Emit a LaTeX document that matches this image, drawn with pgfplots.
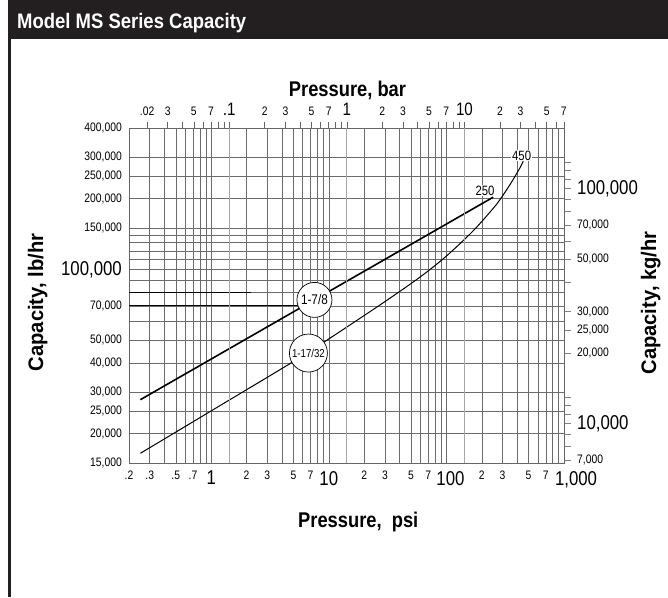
\documentclass[border=0pt]{standalone}
\usepackage{fontspec}
\setmainfont{Liberation Sans}[FakeStretch=0.84]
\newfontfamily\ttlf{Liberation Sans}[FakeStretch=0.88]
\newfontfamily\labf{Liberation Sans}[FakeStretch=0.86]
\newfontfamily\capf{Liberation Sans}[FakeStretch=0.96]
\usepackage{pgfplots}
\pgfplotsset{compat=1.18}
\definecolor{hdr}{HTML}{231F20}
\newcommand\sm{\fontsize{12.3}{13}\selectfont}
\newcommand\bg{\fontsize{20}{22}\selectfont}
\newcommand\tg{\fontsize{18}{20}\selectfont}
\begin{document}
\begin{tikzpicture}
\useasboundingbox (0pt,0pt) rectangle (668pt,-597pt);
\fill[white] (0pt,0pt) rectangle (668pt,-597pt);
\fill[hdr] (8pt,0pt) rectangle (668pt,-39pt);
\fill[hdr] (8pt,0pt) rectangle (11pt,-597pt);
\node[anchor=base west, inner sep=0pt, text=white, font=\ttlf\fontsize{21}{22}\selectfont\bfseries] at (17pt,-28pt) {Model MS Series Capacity};
\node[anchor=base, inner sep=0pt, font=\labf\fontsize{21.3}{22}\selectfont\bfseries] at (347.5pt,-96pt) {Pressure, bar};
\node[anchor=base west, inner sep=0pt, font=\labf\fontsize{21.3}{22}\selectfont\bfseries] at (298pt,-527pt) {Pressure,\ \ psi};
\node[rotate=90, anchor=base, inner sep=0pt, font=\capf\fontsize{21}{22}\selectfont\bfseries] at (43pt,-302.5pt) {Capacity, lb/hr};
\node[rotate=90, anchor=base, inner sep=0pt, font=\capf\fontsize{21}{22}\selectfont\bfseries] at (656pt,-303pt) {Capacity, kg/hr};

% main axis: psi / lb/hr
\begin{axis}[at={(129pt,-463pt)}, anchor=south west, width=435pt, height=335pt, scale only axis,
  xmode=log, ymode=log, xmin=0.2, xmax=1000, ymin=15000, ymax=400000,
  axis line style={black!60, line width=0.8pt},
  xtick={0.2,0.3,0.4,0.5,0.6,0.7,0.8,0.9,1,2,3,4,5,6,7,8,9,10,20,30,40,50,60,70,80,90,100,200,300,400,500,600,700,800,900,1000},
  xticklabels={{\sm.2},{\sm.3},{},{\sm.5},{},{\sm.7},{},{},{\bg 1},{\sm2},{\sm3},{},{\sm5},{},{\sm7},{},{},{\bg10},{\sm2},{\sm3},{},{\sm5},{},{\sm7},{},{},{\bg\makebox[0pt][l]{\hspace{-10pt}100}},{\sm2},{\sm3},{},{\sm5},{},{\sm7},{},{},{\bg\makebox[0pt][l]{\hspace{-9pt}1,000}}},
  ytick={15000,20000,25000,30000,40000,50000,60000,70000,80000,90000,100000,110000,120000,130000,140000,150000,200000,250000,300000,400000},
  yticklabels={{\sm15,000},{\sm20,000},{\sm25,000},{\sm30,000},{\sm40,000},{\sm50,000},{},{\sm70,000},{},{},{\bg100,000},{},{},{},{},{\sm150,000},{\sm200,000},{\sm250,000},{\sm300,000},{\sm400,000}},
  grid=major, major grid style={black!58, line width=0.55pt},
  major tick length=0pt,
  xticklabel style={anchor=north, inner sep=0pt, yshift=-8pt},
  yticklabel style={anchor=east, inner sep=0pt, xshift=-7pt},
  ]
\addplot[black, line width=1pt] coordinates {(0.2,80000) (2.2,80000)};
\addplot[black, line width=1pt] coordinates {(0.2,70000) (5.5,70000)};
\addplot[black, line width=1.6pt] coordinates {(0.25,27900) (250,203000)};
\addplot[black, line width=1pt, smooth] coordinates {(0.25,16500) (1,25000) (5,40540) (10,50600) (30,72950) (60,92980) (100,114000) (170,146500) (250,182000) (285,198000) (350,231000) (420,269500) (450,289000)};
\node[circle, draw=black, line width=0.7pt, fill=white, minimum size=35pt, inner sep=0pt, font=\fontsize{14}{15}\selectfont] at (axis cs:7.55,74200) {1-7/8};
\node[circle, draw=black, line width=0.7pt, fill=white, minimum size=38pt, inner sep=0pt, font=\fontsize{11.5}{12}\selectfont] at (axis cs:6.71,44070) {1-17/32};
\node[fill=white, inner sep=1pt, font=\fontsize{13.5}{14}\selectfont] at (axis cs:213,216800) {250};
\node[fill=white, inner sep=1pt, font=\fontsize{13.5}{14}\selectfont] at (axis cs:436,305600) {450};
\end{axis}

% top axis: bar
\begin{axis}[at={(129pt,-463pt)}, anchor=south west, width=435pt, height=335pt, scale only axis,
  xmode=log, xmin=0.01404, xmax=70.2, ymin=0, ymax=1,
  axis x line*=top, axis y line=none,
  axis line style={black!60, line width=0.8pt},
  xtick={0.02,0.03,0.04,0.05,0.06,0.07,0.08,0.09,0.1,0.2,0.3,0.4,0.5,0.6,0.7,0.8,0.9,1,2,3,4,5,6,7,8,9,10,20,30,40,50,60,70},
  xticklabels={{\sm.02},{\sm3},{},{\sm5},{},{\sm7},{},{},{\tg.1},{\sm2},{\sm3},{},{\sm5},{},{\sm7},{},{},{\tg1},{\sm2},{\sm3},{},{\sm5},{},{\sm7},{},{},{\tg10},{\sm2},{\sm3},{},{\sm5},{},{\sm7}},
  tick align=outside, major tick length=6pt, tick style={black!60, line width=0.6pt},
  xticklabel style={anchor=base, inner sep=0pt, yshift=7pt},
  extra x ticks={0.1,1,10}, extra x tick labels={},
  extra x tick style={grid=major, major grid style={black!35, line width=0.8pt}, major tick length=0pt},
  ]
\end{axis}

% right axis: kg/hr
\begin{axis}[at={(129pt,-463pt)}, anchor=south west, width=435pt, height=335pt, scale only axis,
  ymode=log, ymin=6803.9, ymax=181436.9, xmin=0, xmax=1,
  axis y line*=right, axis x line=none,
  axis line style={black!60, line width=0.8pt},
  ytick={7000,8000,9000,10000,11000,12000,13000,20000,25000,30000,40000,50000,60000,70000,80000,90000,100000,110000,120000,130000},
  yticklabels={{\sm7,000},{},{},{\bg10,000},{},{},{},{\sm20,000},{\sm25,000},{\sm30,000},{},{\sm50,000},{},{\sm70,000},{},{},{\bg100,000},{},{},{}},
  tick align=outside, major tick length=7pt, tick style={black!50, line width=0.6pt},
  yticklabel style={anchor=west, inner sep=0pt, xshift=6pt},
  ]
\end{axis}
\end{tikzpicture}
\end{document}
